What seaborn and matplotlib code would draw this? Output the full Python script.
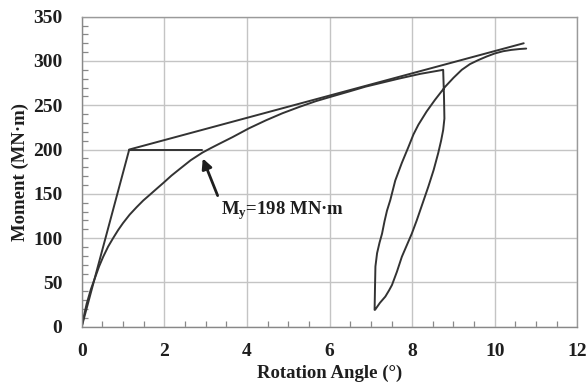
import numpy as np
import pandas as pd
import matplotlib
matplotlib.use("Agg")
import matplotlib.pyplot as plt
from matplotlib.ticker import MultipleLocator
import seaborn as sns

# Idealized bilinear envelope
ideal_theta = [0.0, 1.15, 10.70]
ideal_moment = [0.0, 200.0, 320.0]

# Yield construction line
yield_theta = [1.15, 2.92]
yield_moment = [200.0, 200.0]

# Measured moment-rotation path: loading, unloading, reloading
load_theta = [0.00, 0.04, 0.12, 0.22, 0.32, 0.42, 0.52, 0.64, 0.76, 0.88,
              1.00, 1.16, 1.33, 1.49, 1.65, 1.82, 1.98, 2.17, 2.37, 2.64,
              2.92, 3.12, 3.33, 3.65, 4.05, 4.46, 4.86, 5.26, 5.66, 6.06,
              6.47, 6.87, 7.27, 7.67, 8.20, 8.75]
load_moment = [0.0, 9.5, 26.0, 42.0, 55.0, 68.0, 79.0, 90.5, 100.0, 109.0,
               117.0, 126.5, 135.0, 142.5, 149.0, 156.0, 162.5, 170.5, 178.0, 188.0,
               196.5, 201.5, 206.5, 214.0, 224.0, 233.0, 241.0, 248.0, 254.5, 260.0,
               265.5, 271.0, 275.5, 280.0, 285.5, 290.0]
unload_theta = [8.77, 8.78, 8.75, 8.70, 8.63, 8.52, 8.39, 8.25, 8.11, 7.99,
                7.87, 7.75, 7.63, 7.51, 7.44, 7.35, 7.22, 7.10]
unload_moment = [260.0, 235.0, 222.0, 210.0, 196.0, 177.0, 158.0, 139.0, 120.0, 105.0,
                 92.0, 79.0, 62.0, 47.0, 41.0, 34.0, 27.0, 19.0]
reload_theta = [7.09, 7.10, 7.11, 7.15, 7.21, 7.27, 7.33, 7.39, 7.47, 7.59,
                7.75, 7.91, 8.03, 8.15, 8.35, 8.55, 8.80, 9.00, 9.20, 9.40,
                9.60, 9.80, 10.00, 10.20, 10.40, 10.60, 10.76]
reload_moment = [19.0, 45.0, 68.0, 83.0, 95.0, 105.0, 119.0, 131.0, 143.0, 165.0,
                 185.0, 203.0, 217.0, 228.0, 243.0, 256.0, 271.0, 281.0, 290.0, 296.5,
                 301.0, 305.0, 308.5, 311.0, 312.5, 313.5, 314.0]

x_ticks = [0, 2, 4, 6, 8, 10, 12]
y_ticks = [0, 50, 100, 150, 200, 250, 300, 350]

sns.set_theme(style="whitegrid")
plt.rcParams["font.family"] = ["Liberation Serif", "DejaVu Serif"]
plt.rcParams["font.weight"] = "bold"
plt.rcParams["mathtext.fontset"] = "custom"
plt.rcParams["mathtext.rm"] = "Liberation Serif:bold"
plt.rcParams["mathtext.bf"] = "Liberation Serif:bold"
plt.rcParams["mathtext.it"] = "Liberation Serif:bold"

line_color = "#333333"
text_color = "#1e1e1e"

fig = plt.figure(figsize=(5.88, 3.88), dpi=100)
ax = fig.add_axes([0.139, 0.158, 0.843, 0.799])

df_ideal = pd.DataFrame({"theta": ideal_theta, "moment": ideal_moment})
df_yield = pd.DataFrame({"theta": yield_theta, "moment": yield_moment})
df_test = pd.DataFrame({"theta": load_theta + unload_theta + reload_theta,
                        "moment": load_moment + unload_moment + reload_moment})

for df in (df_ideal, df_yield, df_test):
    sns.lineplot(data=df, x="theta", y="moment", sort=False, estimator=None,
                 color=line_color, lw=1.4, ax=ax)

ax.set_xlim(0, 12)
ax.set_ylim(0, 350)
ax.set_xticks(x_ticks)
ax.set_yticks(y_ticks)
ax.xaxis.set_minor_locator(MultipleLocator(0.5))
ax.yaxis.set_minor_locator(MultipleLocator(10))

ax.grid(True, which="major", color="#c4c4c4", lw=1.0)
ax.grid(False, which="minor")
for side, sp in ax.spines.items():
    sp.set_visible(True)
    sp.set_color("#9a9a9a")
    sp.set_linewidth(1.0)
ax.spines["left"].set_color("#888888")
ax.spines["bottom"].set_color("#888888")

ax.tick_params(which="major", length=0, labelsize=14, colors=text_color)
ax.tick_params(axis="x", which="major", pad=12)
ax.tick_params(axis="y", which="major", pad=14)
ax.tick_params(which="minor", direction="in", length=4, width=0.9,
               color="#888888", bottom=True, left=True)
for lbl in ax.get_xticklabels() + ax.get_yticklabels():
    lbl.set_fontweight("bold")

ax.set_xlabel("Rotation Angle (°)", fontsize=13.5, fontweight="bold",
              color=text_color, labelpad=3)
ax.set_ylabel("Moment (MN·m)", fontsize=13.5, fontweight="bold",
              color=text_color, labelpad=3)

# Yield-moment callout
ax.annotate("", xy=(2.93, 190), xytext=(3.29, 148),
            arrowprops=dict(arrowstyle="-|>", color=text_color, lw=2.0,
                            mutation_scale=15, shrinkA=0, shrinkB=0))
ax.text(3.36, 131, r"$\mathbf{M_y}$=198 MN·m", fontsize=13.5, fontweight="bold",
        color=text_color, ha="left", va="center")

fig.savefig("out.png", dpi=100)
